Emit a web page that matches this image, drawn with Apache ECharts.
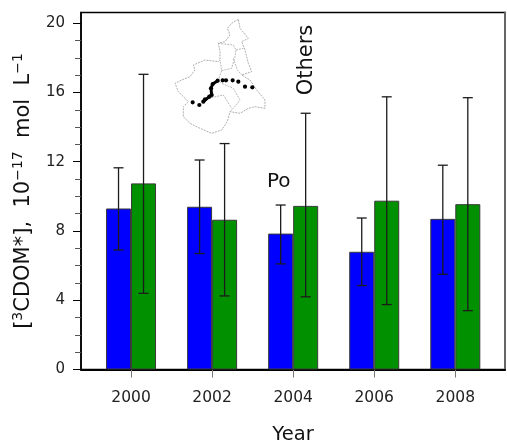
<!DOCTYPE html>
<html><head><meta charset="utf-8">
<style>html,body{margin:0;padding:0;background:#fff}#c{width:507px;height:446px}</style>
<script src="https://cdn.jsdelivr.net/npm/echarts@6/dist/echarts.min.js"></script>
</head><body><div id="c"></div>
<script>
const years = [2000, 2002, 2004, 2006, 2008];
const poValues = [9.3, 9.4, 7.85, 6.8, 8.7];
const poLow = [6.9, 6.7, 6.1, 4.85, 5.5];
const poHigh = [11.65, 12.1, 9.5, 8.75, 11.8];
const othersValues = [10.75, 8.65, 9.45, 9.75, 9.55];
const othersLow = [4.4, 4.25, 4.2, 3.75, 3.4];
const othersHigh = [17.05, 13.05, 14.8, 15.75, 15.7];
const majorTicks = [0, 4, 8, 12, 16, 20];
const minorTicks = [1, 2, 3, 5, 6, 7, 9, 10, 11, 13, 14, 15, 17, 18, 19];

// inset map sketch (picture decoration)
const mapOutline = [[265,58],[245,70],[232,85],[240,105],[225,125],[205,130],[210,155],[210,180],[205,185],[165,180],[130,195],[135,210],[120,230],[95,240],[75,250],[85,275],[100,290],[115,305],[100,320],[100,350],[120,370],[150,385],[185,400],[215,390],[232,365],[240,335],[270,340],[295,325],[315,320],[345,325],[345,300],[320,270],[300,240],[275,225],[305,215],[295,190],[285,150],[275,125],[295,115],[270,85],[265,58]];
const mapInner = [
  [[205,130],[250,135],[258,150],[255,170],[245,205],[215,212],[210,180]],
  [[258,150],[280,145]],
  [[250,175],[262,210],[275,225]],
  [[215,212],[205,240],[215,250],[250,265],[270,300],[250,325],[240,335]],
  [[175,295],[220,285],[245,325]]
];
const riverLine = [[160,305],[178,290],[185,285],[183,265],[188,252],[203,242]];
const riverDots = [[128,307],[148,315],[160,305],[165,298],[178,290],[185,285],[183,265],[188,252],[203,242],[218,241],[228,241],[248,241],[265,245],[285,260],[307,262]];
const mp = p => [150 + p[0] / 3, p[1] / 3];

const graphics = [];
graphics.push({type:'polyline',silent:true,shape:{points:mapOutline.map(mp)},style:{stroke:'#9a9a9a',fill:null,lineWidth:0.8,lineDash:[2,1]}});
mapInner.forEach(l => graphics.push({type:'polyline',silent:true,shape:{points:l.map(mp)},style:{stroke:'#a8a8a8',fill:null,lineWidth:0.8,lineDash:[2,1]}}));
graphics.push({type:'polyline',silent:true,shape:{points:riverLine.map(mp)},style:{stroke:'#000',fill:null,lineWidth:3}});
riverDots.forEach(p => { const q = mp(p); graphics.push({type:'circle',silent:true,shape:{cx:q[0],cy:q[1],r:2.1},style:{fill:'#000'}}); });
const FONT = '"DejaVu Sans"';
graphics.push({type:'text',silent:true,left:267,top:172,style:{text:'Po',font:'20px '+FONT,fill:'#111'}});
graphics.push({type:'text',silent:true,x:307,y:60,rotation:Math.PI/2,style:{text:'Others',font:'21px '+FONT,fill:'#111',align:'center',verticalAlign:'middle'}});

const errSeries = (name, low, high, dir) => ({
  type:'custom', name, z:5, silent:true,
  data: years.map((y,i)=>[y, low[i], high[i]]),
  encode:{x:0,y:[1,2]},
  renderItem:(params, api)=>{
    const lo = api.coord([api.value(0), api.value(1)]);
    const hi = api.coord([api.value(0), api.value(2)]);
    const x = lo[0] + dir * 12.5;
    const st = {stroke:'#1c1c1c', lineWidth:1.3};
    return {type:'group',children:[
      {type:'line',shape:{x1:x,y1:lo[1],x2:x,y2:hi[1]},style:st},
      {type:'line',shape:{x1:x-5,y1:lo[1],x2:x+5,y2:lo[1]},style:st},
      {type:'line',shape:{x1:x-5,y1:hi[1],x2:x+5,y2:hi[1]},style:st}
    ]};
  }
});
const barStyle = c => ({color:c, borderColor:'#3a3a3a', borderWidth:1});

const chart = echarts.init(document.getElementById('c'), null, {renderer:'canvas'});
const xMin = 1998.766, xMax = 2009.226, yMax = 20.62;
chart.setOption({
  animation:false,
  backgroundColor:'#fff',
  graphic:graphics,
  grid:{left:81,top:12.5,width:424,height:357,show:true,borderColor:'#000',borderWidth:1.5,backgroundColor:'transparent',outerBoundsMode:'none'},
  xAxis:{
    type:'value',min:xMin,max:xMax,
    name:'Year',nameLocation:'middle',nameGap:55,
    nameTextStyle:{fontFamily:FONT,fontSize:19.5,color:'#111'},
    splitLine:{show:false},
    axisLine:{show:true,onZero:false,lineStyle:{color:'#000',width:2}},
    axisTick:{show:true,length:8,lineStyle:{color:'#777',width:1},customValues:years},
    axisLabel:{customValues:years,margin:20,fontFamily:FONT,fontSize:15.5,color:'#222',formatter:v=>String(v)}
  },
  yAxis:[{
    type:'value',min:0,max:yMax,position:'left',
    name:'{t|[}{s|3}{t|CDOM*],  10}{s|\u221217}{t|  mol  L}{s|\u22121}',
    nameLocation:'middle',nameGap:44,nameRotate:90,
    nameTextStyle:{rich:{
      t:{fontFamily:FONT,fontSize:21,color:'#111',verticalAlign:'middle',lineHeight:26},
      s:{fontFamily:FONT,fontSize:14,color:'#111',verticalAlign:'top',lineHeight:26}
    }},
    splitLine:{show:false},
    axisLine:{show:true,lineStyle:{color:'#000',width:1.5}},
    axisTick:{show:true,length:8,lineStyle:{color:'#000',width:1},customValues:majorTicks},
    axisLabel:{customValues:majorTicks,margin:16,fontFamily:FONT,fontSize:15,color:'#222',formatter:v=>String(v)}
  },{
    type:'value',min:0,max:yMax,position:'left',
    splitLine:{show:false},
    axisLine:{show:false},
    axisTick:{show:true,length:6,lineStyle:{color:'#555',width:1},customValues:minorTicks},
    axisLabel:{show:false}
  },{
    type:'value',min:0,max:yMax,position:'right',
    splitLine:{show:false},
    axisLine:{show:true,lineStyle:{color:'#666',width:2}},
    axisTick:{show:false},
    axisLabel:{show:false}
  }],
  series:[
    {type:'bar',name:'Po',barWidth:25,barGap:'0%',z:3,data:years.map((y,i)=>[y,poValues[i]]),itemStyle:barStyle('#0000ff')},
    {type:'bar',name:'Others',barWidth:25,barGap:'0%',z:3,data:years.map((y,i)=>[y,othersValues[i]]),itemStyle:barStyle('#009000')},
    errSeries('Po error',poLow,poHigh,-1),
    errSeries('Others error',othersLow,othersHigh,1)
  ]
});
</script></body></html>
